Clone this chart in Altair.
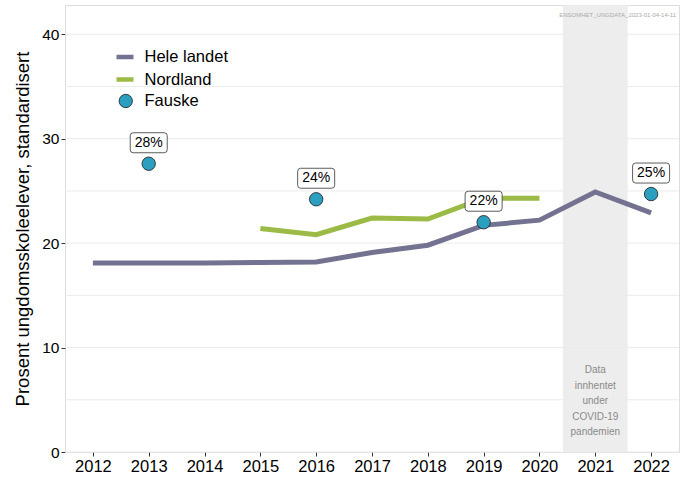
import altair as alt
import pandas as pd

years = list(range(2012, 2023))
hele_landet = [18.1, 18.1, 18.1, 18.15, 18.2, 19.1, 19.8, 21.7, 22.2, 24.9, 22.9]
nordland_years = [2015, 2016, 2017, 2018, 2019, 2020]
nordland = [21.4, 20.8, 22.4, 22.3, 24.3, 24.3]
fauske_years = [2013, 2016, 2019, 2022]
fauske = [27.6, 24.2, 22.0, 24.7]
fauske_labels = ["28%", "24%", "22%", "25%"]
grid_values = [0, 5, 10, 15, 20, 25, 30, 35, 40]
y_ticks = [0, 10, 20, 30, 40]
x_ticks = years
covid_year = [2021]
covid_text = "Data\ninnhentet\nunder\nCOVID-19\npandemien"
watermark = "ENSOMHET_UNGDATA_2023-01-04-14-11"

FONT = "Liberation Sans"

lines_df = pd.DataFrame(
    {"year": years, "value": hele_landet, "series": "Hele landet"}
)
lines_df = pd.concat([
    lines_df,
    pd.DataFrame({"year": nordland_years, "value": nordland, "series": "Nordland"}),
])
points_df = pd.DataFrame({"year": fauske_years, "value": fauske,
                          "label": fauske_labels, "series": "Fauske"})
grid_df = pd.DataFrame({"v": grid_values})
covid_df = pd.DataFrame({"x1": [c - 0.58 for c in covid_year],
                         "x2": [c + 0.58 for c in covid_year],
                         "xc": covid_year, "t": [covid_text]})

xscale = alt.Scale(domain=[2011.5, 2022.5], nice=False, zero=False)
yscale = alt.Scale(domain=[0, 42.8], nice=False, zero=False)

xax = alt.Axis(values=x_ticks, format="d", title=None, grid=False, domain=False,
               labelFontSize=16.5, labelColor="black", tickColor="#333",
               tickSize=4, labelPadding=2, labelFont=FONT)
yax = alt.Axis(values=y_ticks, title="Prosent ungdomsskoleelever, standardisert",
               grid=False, domain=False, labelFontSize=15.5, labelColor="black",
               tickColor="#333", tickSize=4, labelPadding=2, labelFont=FONT,
               titleFontSize=18.5, titleFontWeight="normal", titleFont=FONT,
               titleColor="black", titlePadding=9)

grid = alt.Chart(grid_df).mark_rule(color="#ebebeb", strokeWidth=1).encode(
    y=alt.Y("v:Q", scale=yscale, axis=yax)
)

band = alt.Chart(covid_df).mark_rect(color="#ebebeb", opacity=0.9).encode(
    x=alt.X("x1:Q", scale=xscale, axis=xax), x2="x2:Q",
    y=alt.value(0), y2=alt.value(447)
)

band_text = alt.Chart(covid_df).mark_text(
    lineBreak="\n", fontSize=10, color="#8a8a8a", lineHeight=15.6,
    font=FONT, baseline="middle"
).encode(x=alt.X("xc:Q", scale=xscale), y=alt.value(365), text="t:N")

lines = alt.Chart(lines_df).mark_line(strokeWidth=5).encode(
    x=alt.X("year:Q", scale=xscale, axis=xax),
    y=alt.Y("value:Q", scale=yscale, axis=yax),
    color=alt.Color("series:N",
                    scale=alt.Scale(domain=["Hele landet", "Nordland"],
                                    range=["#737391", "#9bbb46"]),
                    legend=alt.Legend(title=None, orient="none", legendX=49,
                                      legendY=41, symbolType="stroke",
                                      symbolSize=289, symbolStrokeWidth=4.5,
                                      labelFontSize=16.5, labelFont=FONT,
                                      labelColor="black", rowPadding=2.5,
                                      labelOffset=8.5, padding=0)),
    detail="series:N",
)

pts = alt.Chart(points_df).mark_point(
    filled=True, size=180, stroke="#1a1a1a", strokeWidth=0.8, opacity=1
).encode(
    x=alt.X("year:Q", scale=xscale),
    y=alt.Y("value:Q", scale=yscale),
    fill=alt.Fill("series:N",
                  scale=alt.Scale(domain=["Fauske"], range=["#2a9fbf"]),
                  legend=alt.Legend(title=None, orient="none", legendX=52.5,
                                    legendY=87.75, symbolType="circle",
                                    symbolSize=177, symbolStrokeColor="#1a1a1a",
                                    symbolStrokeWidth=0.8, labelFontSize=16.5,
                                    labelFont=FONT, labelColor="black",
                                    labelOffset=10.5, padding=0)),
)

box_shape = ("M-1.55,-1 L1.55,-1 Q1.85,-1 1.85,-0.7 L1.85,0.7 Q1.85,1 1.55,1 "
             "L-1.55,1 Q-1.85,1 -1.85,0.7 L-1.85,-0.7 Q-1.85,-1 -1.55,-1 Z")
boxes = alt.Chart(points_df).mark_point(
    shape=box_shape, size=400, filled=True, fill="white", stroke="#333",
    strokeWidth=0.8, opacity=1, yOffset=-21
).encode(x=alt.X("year:Q", scale=xscale), y=alt.Y("value:Q", scale=yscale))

labels = alt.Chart(points_df).mark_text(
    fontSize=14, color="black", font=FONT, yOffset=-21, baseline="middle"
).encode(x=alt.X("year:Q", scale=xscale), y=alt.Y("value:Q", scale=yscale),
         text="label:N")

wm = alt.Chart(covid_df).mark_text(
    fontSize=6, color="#aaaaaa", align="right", font=FONT
).encode(x=alt.value(611), y=alt.value(10), text=alt.value(watermark))

chart = alt.layer(grid, band, band_text, lines, pts, boxes, labels, wm).properties(
    width=614, height=447,
    autosize=alt.AutoSizeParams(type="none"),
    padding={"left": 65, "top": 5, "right": 7, "bottom": 26},
).configure_view(stroke="#333", strokeWidth=1).configure(background="white")

chart.save("out.html", embed_options={"renderer": "svg", "actions": False})
